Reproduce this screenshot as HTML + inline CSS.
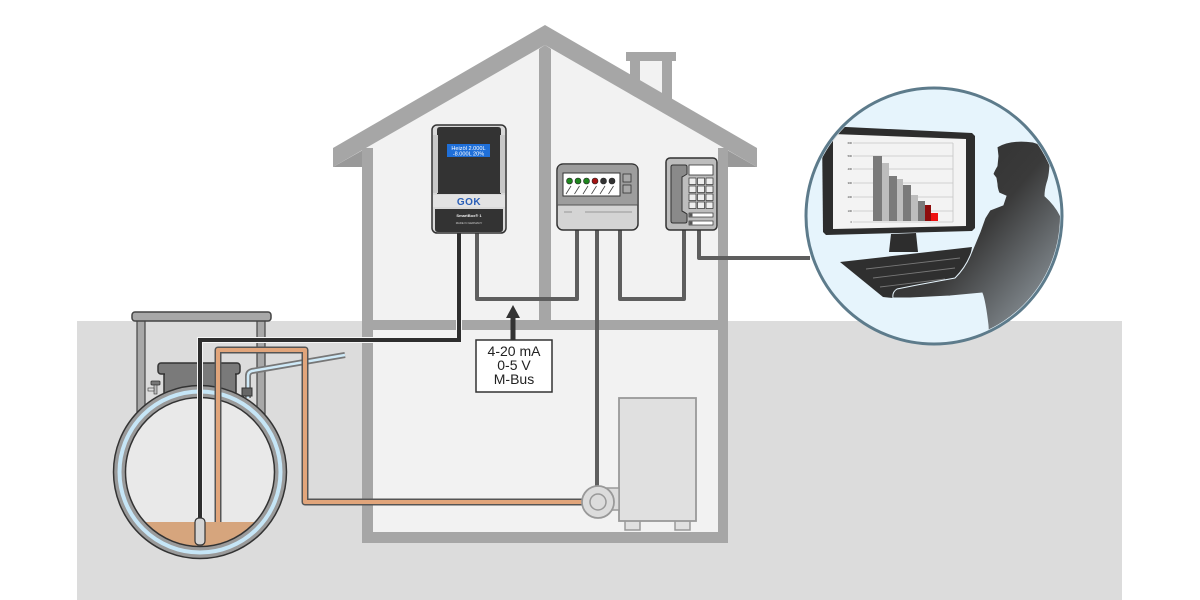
<!DOCTYPE html>
<html><head><meta charset="utf-8"><style>
html,body{margin:0;padding:0;background:#fff;}
svg{display:block;}
text{font-family:"Liberation Sans",sans-serif;}
</style></head><body>
<svg width="1200" height="600" viewBox="0 0 1200 600" xmlns="http://www.w3.org/2000/svg">
<defs>
<clipPath id="cc"><circle cx="934" cy="216" r="126"/></clipPath>
<clipPath id="tankin"><circle cx="200" cy="472" r="74"/></clipPath>
<linearGradient id="pg" x1="0" y1="0" x2="1" y2="1">
<stop offset="0" stop-color="#2b2b2b"/><stop offset="0.45" stop-color="#3a3a3a"/><stop offset="0.75" stop-color="#7d8489"/><stop offset="1" stop-color="#c9d6de"/>
</linearGradient>
</defs>
<rect width="1200" height="600" fill="#fff"/>
<!-- ground -->
<rect x="77" y="321" width="1045" height="279" fill="#dcdcdc"/>

<!-- chimney -->
<rect x="630" y="58" width="42" height="62" fill="#a6a6a6"/>
<rect x="640" y="61" width="22" height="60" fill="#f2f2f2"/>
<rect x="626" y="52" width="50" height="9" fill="#a6a6a6"/>

<!-- house interior -->
<polygon points="362,150 545,45 728,150 728,543 362,543" fill="#f2f2f2"/>
<!-- roof band -->
<polygon points="333,148 545,25 757,148 757,167 545,45 333,167" fill="#a6a6a6"/>
<polygon points="333,167 363,150 363,167" fill="#999"/>
<polygon points="757,167 727,150 727,167" fill="#999"/>
<!-- walls -->
<rect x="362" y="148" width="11" height="395" fill="#a6a6a6"/>
<rect x="718" y="148" width="10" height="395" fill="#a6a6a6"/>
<rect x="362" y="532" width="366" height="11" fill="#a6a6a6"/>
<rect x="373" y="320" width="345" height="10" fill="#a6a6a6"/>
<polygon points="539,49 545,45 551,49 551,320 539,320" fill="#a6a6a6"/>

<!-- manhole frame -->
<rect x="137" y="318" width="8" height="110" fill="#a8a8a8" stroke="#444" stroke-width="1.2"/>
<rect x="257" y="318" width="8" height="110" fill="#a8a8a8" stroke="#444" stroke-width="1.2"/>
<rect x="132" y="312" width="139" height="9" rx="3" fill="#a8a8a8" stroke="#444" stroke-width="1.5"/>

<!-- blue vent pipe -->
<path d="M248,398 V376 Q248,372 252,371 L345,355" fill="none" stroke="#777" stroke-width="6"/>
<path d="M248,398 V376 Q248,372 252,371 L345,355" fill="none" stroke="#cfeaf8" stroke-width="2.5"/>
<rect x="242" y="388" width="10" height="8" fill="#666" stroke="#333" stroke-width="1"/>

<!-- small valve -->
<rect x="151" y="381" width="9" height="4" rx="1" fill="#777" stroke="#333" stroke-width="0.8"/>
<rect x="154" y="385" width="3" height="9" fill="#bbb" stroke="#333" stroke-width="0.6"/>
<rect x="148" y="388" width="6" height="3" fill="#ddd" stroke="#333" stroke-width="0.6"/>

<!-- manhole dome -->
<path d="M164,374 H236 V420 H164 Z" fill="#7a7a7a" stroke="#333" stroke-width="1.5"/>
<rect x="158" y="363" width="82" height="11" rx="3" fill="#7a7a7a" stroke="#333" stroke-width="1.5"/>
<rect x="165" y="372" width="70" height="6" fill="#7a7a7a"/>

<!-- tank -->
<circle cx="200" cy="472" r="80" fill="#e9e9e9"/>
<g clip-path="url(#tankin)">
<rect x="120" y="522" width="160" height="60" fill="#d6a57d"/>
</g>
<circle cx="200" cy="472" r="80.5" fill="none" stroke="#333" stroke-width="13.5"/>
<circle cx="200" cy="472" r="80.5" fill="none" stroke="#9a9a9a" stroke-width="10.5"/>
<circle cx="200" cy="472" r="80.5" fill="none" stroke="#c6e6f7" stroke-width="4"/>

<!-- orange pipe -->
<path d="M218,522 V350 H305 V502 H584" fill="none" stroke="#555" stroke-width="7" stroke-linejoin="round"/>
<path d="M218,522 V350 H305 V502 H584" fill="none" stroke="#e1a57b" stroke-width="4" stroke-linejoin="round"/>

<!-- black probe cable -->
<path d="M459,232 V340 H200 V520" fill="none" stroke="#f5f5f5" stroke-width="6"/>
<path d="M459,232 V340 H200 V520" fill="none" stroke="#2e2e2e" stroke-width="4"/>
<rect x="195" y="518" width="10" height="27" rx="4" fill="#d4d4d4" stroke="#333" stroke-width="1.2"/>

<!-- gray cables -->
<g fill="none" stroke="#5e5e5e" stroke-width="4" stroke-linejoin="round">
<path d="M477,232 V299 H577 V230"/>
<path d="M597,230 V488"/>
<path d="M620,230 V299 H684 V230"/>
<path d="M699,230 V258 H810"/>
</g>

<!-- boiler -->
<rect x="625" y="519" width="15" height="11" fill="#e0e0e0" stroke="#999" stroke-width="1.5"/>
<rect x="675" y="519" width="15" height="11" fill="#e0e0e0" stroke="#999" stroke-width="1.5"/>
<rect x="619" y="398" width="77" height="123" fill="#e0e0e0" stroke="#999" stroke-width="1.8"/>
<rect x="598" y="488" width="21" height="22" fill="#dcdcdc" stroke="#999" stroke-width="1.5"/>
<circle cx="598" cy="502" r="16" fill="#dcdcdc" stroke="#999" stroke-width="1.8"/>
<circle cx="598" cy="502" r="8" fill="#dcdcdc" stroke="#999" stroke-width="1.5"/>

<!-- arrow + label -->
<polygon points="513,305 506,318 520,318" fill="#333"/>
<rect x="510.5" y="316" width="5" height="25" fill="#333"/>
<rect x="476" y="340" width="76" height="52" fill="#fff" stroke="#333" stroke-width="1.5"/>
<text x="514" y="356" font-size="14" text-anchor="middle" fill="#222">4-20 mA</text>
<text x="514" y="370" font-size="14" text-anchor="middle" fill="#222">0-5 V</text>
<text x="514" y="384" font-size="14" text-anchor="middle" fill="#222">M-Bus</text>

<!-- SmartBox -->
<rect x="432" y="125" width="74" height="108" rx="5" fill="#d9d9d9" stroke="#333" stroke-width="1.5"/>
<path d="M437,130 Q437,127 440,127 H498 Q501,127 501,130 V194 H437 Z" fill="#333"/>
<rect x="433" y="135" width="5" height="58" fill="#c8c8c8"/>
<rect x="500" y="135" width="5" height="58" fill="#c8c8c8"/>
<rect x="447" y="144" width="43" height="13" fill="#1f6fd8"/>
<text x="468.5" y="150" font-size="5.6" text-anchor="middle" fill="#fff">Heizöl 2.000L</text>
<text x="468.5" y="155.6" font-size="5.6" text-anchor="middle" fill="#fff">-8.000L   20%</text>
<rect x="433" y="195" width="72" height="12" fill="#e3e3e3"/>
<text x="469" y="205" font-size="10" font-weight="bold" text-anchor="middle" fill="#2a5fb8" letter-spacing="0.5">GOK</text>
<path d="M435,209 H503 V229 Q503,232 500,232 H438 Q435,232 435,229 Z" fill="#333"/>
<text x="469" y="217" font-size="4" font-weight="bold" text-anchor="middle" fill="#eee">SmartBox® 1</text>
<text x="469" y="224" font-size="2.8" text-anchor="middle" fill="#ccc">MADE IN GERMANY</text>

<!-- controller -->
<rect x="557" y="164" width="81" height="66" rx="6" fill="#d4d4d4" stroke="#333" stroke-width="1.5"/>
<path d="M563,164.8 H632 Q637.3,164.8 637.3,170 V205 H557.8 V170 Q557.8,164.8 563,164.8 Z" fill="#9d9d9d"/>
<line x1="557.8" y1="205" x2="637.3" y2="205" stroke="#555" stroke-width="1"/>
<rect x="563" y="173" width="57" height="23" fill="#fff" stroke="#333" stroke-width="1"/>
<g stroke="#222" stroke-width="0.6">
<circle cx="569.5" cy="181" r="3" fill="#1e861e"/>
<circle cx="578" cy="181" r="3" fill="#1e861e"/>
<circle cx="586.5" cy="181" r="3" fill="#1e861e"/>
<circle cx="595" cy="181" r="3" fill="#a41212"/>
<circle cx="603.5" cy="181" r="3" fill="#333"/>
<circle cx="612" cy="181" r="3" fill="#333"/>
</g>
<g stroke="#444" stroke-width="0.8">
<line x1="566" y1="194" x2="571" y2="186"/><line x1="574.5" y1="194" x2="579.5" y2="186"/><line x1="583" y1="194" x2="588" y2="186"/>
<line x1="591.5" y1="194" x2="596.5" y2="186"/><line x1="600" y1="194" x2="605" y2="186"/><line x1="608.5" y1="194" x2="613.5" y2="186"/>
</g>
<rect x="623" y="174" width="8" height="8" fill="#a8a8a8" stroke="#333" stroke-width="0.8"/>
<rect x="623" y="185" width="8" height="8" fill="#a8a8a8" stroke="#333" stroke-width="0.8"/>
<line x1="564" y1="212" x2="572" y2="212" stroke="#999" stroke-width="1"/>
<line x1="585" y1="212" x2="632" y2="212" stroke="#999" stroke-width="1"/>

<!-- phone -->
<rect x="666" y="158" width="51" height="72" rx="4" fill="#bdbdbd" stroke="#333" stroke-width="1.5"/>
<path d="M671,167 Q671,165 673,165 H685 Q687,165 687,167 V174 Q684,176 682,177 V211 Q684,212 687,214 V221 Q687,223 685,223 H673 Q671,223 671,221 Z" fill="#8a8a8a" stroke="#333" stroke-width="1"/>
<rect x="689" y="165" width="24" height="10" fill="#fff" stroke="#333" stroke-width="0.8"/>
<g fill="#eee" stroke="#333" stroke-width="0.7">
<rect x="689" y="178" width="7" height="6.5"/><rect x="697.5" y="178" width="7" height="6.5"/><rect x="706" y="178" width="7" height="6.5"/>
<rect x="689" y="186" width="7" height="6.5"/><rect x="697.5" y="186" width="7" height="6.5"/><rect x="706" y="186" width="7" height="6.5"/>
<rect x="689" y="194" width="7" height="6.5"/><rect x="697.5" y="194" width="7" height="6.5"/><rect x="706" y="194" width="7" height="6.5"/>
<rect x="689" y="202" width="7" height="6.5"/><rect x="697.5" y="202" width="7" height="6.5"/><rect x="706" y="202" width="7" height="6.5"/>
</g>
<rect x="689" y="213" width="24" height="4" fill="#fff" stroke="#333" stroke-width="0.7"/>
<rect x="689" y="221" width="24" height="4" fill="#fff" stroke="#333" stroke-width="0.7"/>
<rect x="689.5" y="213.5" width="3" height="3" fill="#555"/>
<rect x="689.5" y="221.5" width="3" height="3" fill="#555"/>

<!-- circle -->
<circle cx="934" cy="216" r="128" fill="#e6f4fc"/>
<g clip-path="url(#cc)">
<!-- keyboard -->
<polygon points="840,262 972,247 968,268 950,286 893,298 883,297" fill="#2f2f2f"/>
<g stroke="#777" stroke-width="0.9">
<line x1="866" y1="269" x2="960" y2="258"/>
<line x1="873" y1="278" x2="955" y2="268"/>
<line x1="880" y1="287" x2="945" y2="279"/>
</g>
<!-- monitor -->
<polygon points="825,126 972,133 975,136 975,228 972,231 826,235 823,232 822,129" fill="#2d2d2d"/>
<polygon points="833,134 966,139 966,226 833,229" fill="#f3f3f3"/>
<polygon points="891,234 916,233 918,252 889,252" fill="#2d2d2d"/>
<g stroke="#c4c4c4" stroke-width="0.8">
<line x1="853" y1="143" x2="953" y2="143"/><line x1="853" y1="156" x2="953" y2="156"/>
<line x1="853" y1="169" x2="953" y2="169"/><line x1="853" y1="183" x2="953" y2="183"/>
<line x1="853" y1="197" x2="953" y2="197"/><line x1="853" y1="211" x2="953" y2="211"/>
<line x1="853" y1="222" x2="953" y2="222"/><line x1="953" y1="143" x2="953" y2="222"/>
</g>
<g font-size="2.6" fill="#333" text-anchor="end">
<text x="852" y="144">600</text><text x="852" y="157">500</text><text x="852" y="170">400</text>
<text x="852" y="184">300</text><text x="852" y="198">200</text><text x="852" y="212">100</text><text x="852" y="223">0</text>
</g>
<rect x="873" y="156" width="9" height="65" fill="#7a7a7a"/>
<rect x="882" y="163" width="7" height="58" fill="#bdbdbd"/>
<rect x="889" y="176" width="8" height="45" fill="#7a7a7a"/>
<rect x="897" y="179" width="6" height="42" fill="#bdbdbd"/>
<rect x="903" y="185" width="8" height="36" fill="#7a7a7a"/>
<rect x="911" y="195" width="7" height="26" fill="#bdbdbd"/>
<rect x="918" y="201" width="7" height="20" fill="#7a7a7a"/>
<rect x="925" y="205" width="6" height="16" fill="#8e0c0c"/>
<rect x="931" y="213" width="7" height="8" fill="#ee1111"/>
<!-- person -->
<path d="M997,147 Q1010,139 1033,142 Q1048,146 1050,160 Q1050,175 1047,183 Q1045,190 1045,196 Q1055,205 1060,215 L1075,250 L1075,360 L990,360 L988,325 Q985,300 982,293 L950,296 L910,298 L893,298 Q892,292 897,289 L917,285 L955,278 Q965,268 970,256 L980,232 L985,218 L990,210 L1003,205 L1006,196 L999,193 Q997,188 997,184 L996,178 L993,174 Q994,171 997,166 L998,156 Z" fill="url(#pg)" stroke="#e6f4fc" stroke-width="1"/>
</g>
<circle cx="934" cy="216" r="128" fill="none" stroke="#5d7b8b" stroke-width="3"/>
</svg>
</body></html>
